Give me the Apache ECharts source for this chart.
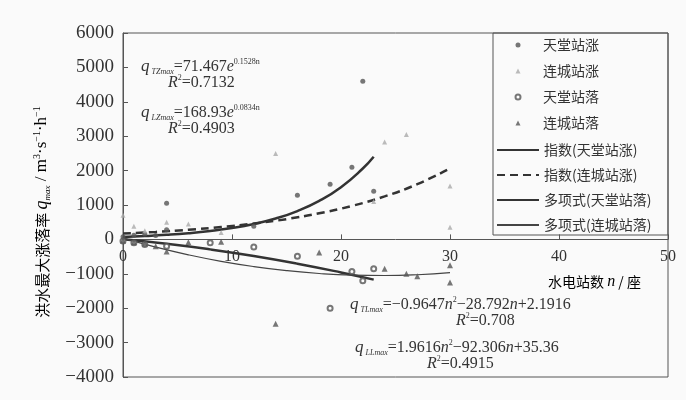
<!DOCTYPE html>
<html><head><meta charset="utf-8">
<script src="https://cdn.jsdelivr.net/npm/echarts@6/dist/echarts.min.js"></script>
<style>html,body{margin:0;padding:0;background:#fafafa}#c{width:686px;height:400px}</style>
</head><body><div id="c"></div>
<script>
// ---- data ----
const xTicks = [0, 10, 20, 30, 40, 50];
const yTicks = [-4000, -3000, -2000, -1000, 0, 1000, 2000, 3000, 4000, 5000, 6000];

const tianTangRise = [[0,80],[1,120],[2,160],[3,110],[4,1050],[4,280],[12,380],[16,1280],[19,1600],[21,2100],[22,4600],[23,1400]];
const lianChengRise = [[0,700],[1,380],[2,250],[4,500],[6,450],[9,200],[14,2500],[23,1100],[24,2830],[26,3050],[30,1550],[30,350]];
const tianTangFall = [[0,-50],[1,-100],[2,-150],[4,-200],[8,-100],[12,-220],[16,-490],[19,-2000],[21,-930],[22,-1200],[23,-850]];
const lianChengFall = [[0,-30],[1,-80],[2,-120],[3,-200],[4,-350],[6,-80],[9,-70],[14,-2450],[18,-380],[24,-850],[26,-1000],[27,-1070],[30,-750],[30,-1250]];

// fitted trend curves
const expTianTang = [[0,71],[2,97],[4,132],[6,179],[8,243],[10,329],[12,447],[14,607],[16,824],[18,1118],[20,1518],[22,2061],[23,2401]];
const expLianCheng = [[0,169],[3,217],[6,279],[9,358],[12,460],[15,590],[18,758],[21,974],[24,1250],[27,1606],[30,2062]];
const polyTianTang = [[0,2],[4,-128],[8,-290],[12,-482],[16,-706],[20,-960],[23,-1170]];
const polyLianCheng = [[0,35],[3,-224],[6,-448],[9,-637],[12,-790],[15,-908],[18,-991],[21,-1038],[24,-1050],[27,-1027],[30,-968]];

const names = ['天堂站涨','连城站涨','天堂站落','连城站落','指数(天堂站涨)','指数(连城站涨)','多项式(天堂站落)','多项式(连城站落)'];

const serif = 'Liberation Serif';
const cjk = 'Noto Sans CJK SC';
const ink = '#333';
const chart = echarts.init(document.getElementById('c'));

// legend icon: a small centred triangle inside a 40x5 box (keeps its aspect)
const triIcon = 'path://M0,5L0,5M17.5,5L20,0L22.5,5ZM40,5L40,5';

const eqRich = {
  q: {fontFamily: serif, fontStyle: 'italic', fontSize: 17, color: ink, lineHeight: 18},
  s: {fontFamily: serif, fontStyle: 'italic', fontSize: 8, color: ink, verticalAlign: 'bottom', lineHeight: 18},
  t: {fontFamily: serif, fontSize: 16, color: ink, lineHeight: 18},
  i: {fontFamily: serif, fontStyle: 'italic', fontSize: 16, color: ink, lineHeight: 18},
  p: {fontFamily: serif, fontSize: 8, color: ink, verticalAlign: 'top', lineHeight: 18}
};
function eq(x, y, text) {
  return {type: 'text', left: x, top: y, z: 10, style: {text: text, rich: eqRich, fill: ink}};
}

chart.setOption({
  backgroundColor: '#fafafa',
  animation: false,
  grid: {left: 123, right: 18, top: 33, bottom: 23, show: true, borderColor: '#555', borderWidth: 1, backgroundColor: 'transparent'},
  xAxis: {
    type: 'value', min: xTicks[0], max: xTicks[xTicks.length - 1], interval: 10,
    offset: -137.6,
    axisLine: {onZero: false, lineStyle: {color: '#555', width: 1}},
    axisTick: {inside: true, length: 5, lineStyle: {color: '#555'}},
    axisLabel: {fontFamily: serif, fontSize: 16, color: ink, margin: 9},
    splitLine: {show: false}
  },
  yAxis: {
    type: 'value', min: yTicks[0], max: yTicks[yTicks.length - 1], interval: 1000,
    axisLine: {show: true, onZero: false, lineStyle: {color: '#555', width: 1}},
    axisTick: {show: true, inside: true, length: 5, lineStyle: {color: '#555'}},
    axisLabel: {fontFamily: serif, fontSize: 19, color: ink, margin: 9, formatter: v => v < 0 ? '\u2212' + Math.abs(v) : String(v)},
    splitLine: {show: false}
  },
  legend: [
    {data: [{name: names[0], icon: 'circle'}, {name: names[1], icon: triIcon}, {name: names[2], icon: 'emptyCircle'}, {name: names[3], icon: triIcon}],
     orient: 'vertical', left: 498, top: 37, itemWidth: 40, itemHeight: 5, itemGap: 10, padding: 0, z: 20,
     textStyle: {fontFamily: cjk, fontSize: 14, color: ink, lineHeight: 16}},
    {data: names.slice(4), orient: 'vertical', left: 496, top: 142, itemWidth: 42, itemHeight: 1, itemGap: 9, padding: 0, z: 20,
     itemStyle: {opacity: 0},
     textStyle: {fontFamily: cjk, fontSize: 14, color: ink, lineHeight: 16}}
  ],
  graphic: [
    {type: 'rect', shape: {x: 493, y: 33, width: 175, height: 202}, style: {fill: 'none', stroke: '#555', lineWidth: 1}, z: 1},
    {type: 'text', x: 42, y: 212, rotation: Math.PI / 2, z: 10,
     style: {text: '{c|洪水最大涨落率 }{q|q}{s|max}{t| / m}{p|3}{t|·s}{p|\u22121}{t|·h}{p|\u22121}', align: 'center', verticalAlign: 'middle',
       rich: {c: {fontFamily: cjk, fontSize: 15, color: ink, lineHeight: 20}, q: {fontFamily: serif, fontStyle: 'italic', fontSize: 18, color: ink, lineHeight: 20},
              s: {fontFamily: serif, fontStyle: 'italic', fontSize: 9, color: ink, verticalAlign: 'bottom', lineHeight: 20},
              t: {fontFamily: serif, fontSize: 17, color: ink, lineHeight: 20}, p: {fontFamily: serif, fontSize: 10, color: ink, verticalAlign: 'top', lineHeight: 20}}}},
    {type: 'text', left: 548, top: 274, z: 10,
     style: {text: '{c|水电站数 }{i|n}{c| / 座}', rich: {c: {fontFamily: cjk, fontSize: 14, color: ink}, i: {fontFamily: serif, fontStyle: 'italic', fontSize: 16, color: ink}}}},
    eq(141, 58, '{q|q}{s| TZmax}{t|=71.467}{i|e}{p|0.1528n}'),
    eq(168, 74, '{i|R}{p|2}{t|=0.7132}'),
    eq(141, 104, '{q|q}{s| LZmax}{t|=168.93}{i|e}{p|0.0834n}'),
    eq(168, 120, '{i|R}{p|2}{t|=0.4903}'),
    eq(350, 296, '{q|q}{s| TLmax}{t|=\u22120.9647}{i|n}{p|2}{t|\u221228.792}{i|n}{t|+2.1916}'),
    eq(456, 312, '{i|R}{p|2}{t|=0.708}'),
    eq(355, 339, '{q|q}{s| LLmax}{t|=1.9616}{i|n}{p|2}{t|\u221292.306}{i|n}{t|+35.36}'),
    eq(427, 355, '{i|R}{p|2}{t|=0.4915}')
  ],
  series: [
    {name: names[0], type: 'scatter', data: tianTangRise, symbol: 'circle', symbolSize: 5, itemStyle: {color: '#555'}, z: 4},
    {name: names[1], type: 'scatter', data: lianChengRise, symbol: 'triangle', symbolSize: 5, itemStyle: {color: '#aaa'}, z: 4},
    {name: names[2], type: 'scatter', data: tianTangFall, symbol: 'emptyCircle', symbolSize: 5, itemStyle: {color: '#555', borderColor: '#555', borderWidth: 1.2}, z: 4},
    {name: names[3], type: 'scatter', data: lianChengFall, symbol: 'triangle', symbolSize: 6, itemStyle: {color: '#555'}, z: 4},
    {name: names[4], type: 'line', data: expTianTang, smooth: true, symbol: 'none', lineStyle: {color: '#333', width: 2.5}, itemStyle: {color: '#333'}, z: 3},
    {name: names[5], type: 'line', data: expLianCheng, smooth: true, symbol: 'none', lineStyle: {color: '#333', width: 2.5, type: [8, 5]}, itemStyle: {color: '#333'}, z: 3},
    {name: names[6], type: 'line', data: polyTianTang, smooth: true, symbol: 'none', lineStyle: {color: '#333', width: 2.5}, itemStyle: {color: '#333'}, z: 3},
    {name: names[7], type: 'line', data: polyLianCheng, smooth: true, symbol: 'none', lineStyle: {color: '#444', width: 1.2}, itemStyle: {color: '#444'}, z: 3}
  ]
});
</script>
</body></html>
